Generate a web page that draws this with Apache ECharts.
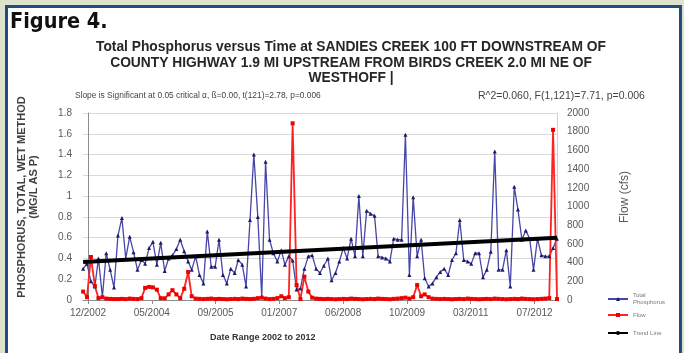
<!DOCTYPE html>
<html><head><meta charset="utf-8">
<script src="https://cdn.jsdelivr.net/npm/echarts@6/dist/echarts.min.js"></script>
<style>
html,body{margin:0;padding:0;width:684px;height:353px;overflow:hidden;background:#dfe2cc;}
#frame{position:absolute;left:5px;top:5px;width:671px;height:360px;border:3px solid #1f4f80;background:#fff;}
#c{position:absolute;left:0;top:0;width:684px;height:353px;}
</style></head><body>
<div id="frame"></div>
<div id="c"></div>
<script>
// Monthly sample months (Nov 2002 - Jan 2013)
const months = [
 '2002-11','2002-12',
 '2003-01','2003-02','2003-03','2003-04','2003-05','2003-06','2003-07','2003-08','2003-09','2003-10','2003-11','2003-12',
 '2004-01','2004-02','2004-03','2004-04','2004-05','2004-06','2004-07','2004-08','2004-09','2004-10','2004-11','2004-12',
 '2005-01','2005-02','2005-03','2005-04','2005-05','2005-06','2005-07','2005-08','2005-09','2005-10','2005-11','2005-12',
 '2006-01','2006-02','2006-03','2006-04','2006-05','2006-06','2006-07','2006-08','2006-09','2006-10','2006-11','2006-12',
 '2007-01','2007-02','2007-03','2007-04','2007-05','2007-06','2007-07','2007-08','2007-09','2007-10','2007-11','2007-12',
 '2008-01','2008-02','2008-03','2008-04','2008-05','2008-06','2008-07','2008-08','2008-09','2008-10','2008-11','2008-12',
 '2009-01','2009-02','2009-03','2009-04','2009-05','2009-06','2009-07','2009-08','2009-09','2009-10','2009-11','2009-12',
 '2010-01','2010-02','2010-03','2010-04','2010-05','2010-06','2010-07','2010-08','2010-09','2010-10','2010-11','2010-12',
 '2011-01','2011-02','2011-03','2011-04','2011-05','2011-06','2011-07','2011-08','2011-09','2011-10','2011-11','2011-12',
 '2012-01','2012-02','2012-03','2012-04','2012-05','2012-06','2012-07','2012-08','2012-09','2012-10','2012-11','2012-12',
 '2013-01'
];
// Total phosphorus (mg/L as P)
const phosphorus = [
 0.30,0.35,0.18,0.13,0.40,0.03,0.45,0.29,0.12,0.62,
 0.79,0.40,0.61,0.46,0.29,0.385,0.35,0.50,0.56,0.34,
 0.55,0.28,0.40,0.43,0.49,0.58,0.47,0.37,0.29,0.42,
 0.24,0.16,0.66,0.32,0.32,0.58,0.24,0.16,0.30,0.26,
 0.385,0.34,0.13,0.77,1.40,0.80,0.03,1.33,0.58,0.45,
 0.37,0.48,0.34,0.42,0.38,0.10,0.11,0.30,0.42,0.43,
 0.30,0.26,0.33,0.40,0.19,0.26,0.37,0.50,0.40,0.59,
 0.42,1.00,0.42,0.86,0.83,0.81,0.42,0.41,0.40,0.37,
 0.59,0.58,0.58,1.59,0.24,0.99,0.42,0.58,0.21,0.13,
 0.16,0.22,0.27,0.30,0.24,0.385,0.45,0.77,0.385,0.37,
 0.35,0.45,0.45,0.22,0.29,0.465,1.43,0.29,0.29,0.48,
 0.13,1.09,0.87,0.58,0.67,0.59,0.29,0.59,0.43,0.42,
 0.42,0.50,0.59
];
// Flow (cfs)
const flow = [
 90,30,460,150,20,30,15,12,10,10,
 12,10,15,12,10,20,130,140,135,110,
 20,18,60,105,60,20,120,300,40,15,
 12,10,12,15,10,12,10,8,10,12,
 10,15,12,10,12,20,25,15,10,12,
 20,40,20,30,1890,160,10,250,90,25,
 15,12,10,12,10,8,10,12,10,15,
 12,10,8,10,12,10,15,12,10,8,
 12,15,20,25,15,30,160,40,60,30,
 15,12,10,12,10,8,10,12,10,15,
 12,10,8,10,12,10,15,12,10,8,
 10,12,10,15,12,10,8,10,12,15,
 20,1820,10
];
// Trend line end values
const trendStart = 0.365, trendEnd = 0.60;
// X tick dates and labels
const tickDates = ['2002-12-20','2004-05-03','2005-09-15','2007-01-28','2008-06-11','2009-10-24','2011-03-08','2012-07-20'];
const tickLabels = ['12/2002','05/2004','09/2005','01/2007','06/2008','10/2009','03/2011','07/2012'];
const leftTicks = ['0','0.2','0.4','0.6','0.8','1','1.2','1.4','1.6','1.8'];
const axisStart = '2002-11-11', axisEnd = '2013-01-12';

// x positions are expressed as days since the first tick date
const ts = s => { const p = s.split('-').map(Number); return Date.UTC(p[0], p[1]-1, p[2] || 1); };
const day0 = ts(tickDates[0]);
const toDay = s => Math.round((ts(s) - day0) / 86400000);
const xs = months.map(m => toDay(m + '-12'));
const tickDays = tickDates.map(toDay);

const FONT = 'Liberation Sans, Arial, sans-serif';
const legendText = {fontFamily:FONT, fontSize:6, color:'#777', lineHeight:7};
const chart = echarts.init(document.getElementById('c'), null, {renderer:'canvas'});
chart.setOption({
  animation:false,
  backgroundColor:'transparent',
  title:{
    text:'Total Phosphorus versus Time at SANDIES CREEK 100 FT DOWNSTREAM OF\nCOUNTY HIGHWAY 1.9 MI UPSTREAM FROM BIRDS CREEK 2.0 MI NE OF\nWESTHOFF |',
    left:346, top:35, textAlign:'center',
    textStyle:{fontFamily:FONT, fontWeight:'bold', fontSize:13.8, lineHeight:15.3, color:'#262626'}
  },
  graphic:[
    {type:'text', left:10, top:11, style:{text:'Figure 4.', font:'bold 21.5px "Liberation Sans Narrow","DejaVu Sans Condensed",sans-serif', fill:'#111'}},
    {type:'text', left:75, top:92, style:{text:'Slope is Significant at 0.05 critical α, ß=0.00, t(121)=2.78, p=0.006', font:'8.4px '+FONT, fill:'#444'}},
    {type:'text', left:478, top:91, style:{text:'R^2=0.060, F(1,121)=7.71, p=0.006', font:'10.5px '+FONT, fill:'#444'}},
    {type:'text', left:210, top:333, style:{text:'Date Range 2002 to 2012', font:'bold 9px '+FONT, fill:'#333'}},
    {type:'text', x:22, y:197, rotation:Math.PI/2, style:{text:'PHOSPHORUS, TOTAL, WET METHOD', font:'bold 11px '+FONT, fill:'#404040', align:'center', verticalAlign:'middle'}},
    {type:'text', x:34, y:187, rotation:Math.PI/2, style:{text:'(MG/L AS P)', font:'bold 11px '+FONT, fill:'#404040', align:'center', verticalAlign:'middle'}},
    {type:'text', x:625, y:197, rotation:Math.PI/2, style:{text:'Flow (cfs)', font:'12px '+FONT, fill:'#595959', align:'center', verticalAlign:'middle'}}
  ],
  legend:[
    {orient:'vertical', left:602, top:283.5, itemWidth:20, itemHeight:5,
     textStyle:Object.assign({padding:[7,0,0,0]}, legendText), data:['Total\nPhosphorus']},
    {orient:'vertical', left:602, top:306.5, itemWidth:20, itemHeight:5, textStyle:legendText, data:['Flow']},
    {orient:'vertical', left:602, top:324.5, itemWidth:20, itemHeight:5, textStyle:legendText, data:['Trend Line']}
  ],
  grid:{left:83, right:127, top:113, bottom:53},
  xAxis:{
    type:'value', min:toDay(axisStart), max:toDay(axisEnd),
    axisLine:{lineStyle:{color:'#8c8c8c'}},
    axisTick:{show:true, customValues:tickDays, length:4, lineStyle:{color:'#8c8c8c'}},
    axisLabel:{customValues:tickDays, margin:8, fontFamily:FONT, fontSize:10, color:'#595959',
      formatter:(v)=>{ const i = tickDays.indexOf(v); return i>=0 ? tickLabels[i] : ''; }},
    splitLine:{show:false}
  },
  yAxis:[
    {type:'value', min:0, max:1.8, interval:0.2,
     axisLine:{show:true, lineStyle:{color:'#8c8c8c'}}, axisTick:{show:false},
     axisLabel:{margin:11, fontFamily:FONT, fontSize:10, color:'#595959', formatter:(v)=>leftTicks[Math.round(v/0.2)]},
     splitLine:{lineStyle:{color:'#d9d9d9'}}},
    {type:'value', min:0, max:2000, interval:200,
     axisLine:{show:true, lineStyle:{color:'#d0d0d0'}}, axisTick:{show:false},
     axisLabel:{margin:10, fontFamily:FONT, fontSize:10, color:'#595959', formatter:(v)=>String(v)},
     splitLine:{show:false}}
  ],
  series:[
    {name:'Total\nPhosphorus', type:'line', yAxisIndex:0,
     data:xs.map((d,i)=>[d, phosphorus[i]]),
     symbol:'triangle', symbolSize:4, showSymbol:true,
     lineStyle:{color:'#4646a8', width:1.3}, itemStyle:{color:'#1c1c66'}},
    {name:'Flow', type:'line', yAxisIndex:1,
     data:xs.map((d,i)=>[d, flow[i]]),
     symbol:'rect', symbolSize:4, showSymbol:true,
     lineStyle:{color:'#ff2222', width:1.8}, itemStyle:{color:'#ee0000'}},
    {name:'Trend Line', type:'line', yAxisIndex:0,
     data:[[xs[0], trendStart],[xs[xs.length-1], trendEnd]],
     symbol:'none', lineStyle:{color:'#000', width:4}, itemStyle:{color:'#000'}, z:5}
  ]
});
</script>
</body></html>
